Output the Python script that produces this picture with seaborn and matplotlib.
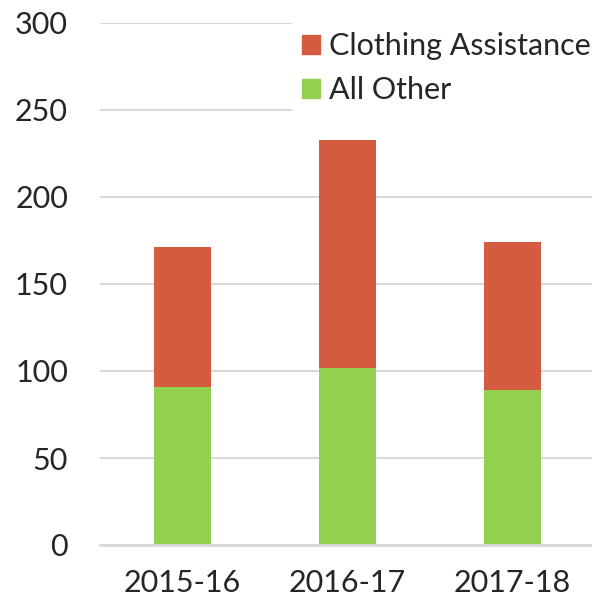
import pandas as pd
import numpy as np
import seaborn as sns
import matplotlib.pyplot as plt
from matplotlib.patches import Patch

years = ['2015-16', '2016-17', '2017-18']
all_other = [91, 102, 89]
clothing = [80, 131, 85]

RED = '#D45B40'
GREEN = '#92D050'

df = pd.DataFrame({'year': years, 'all_other': all_other, 'clothing': clothing})
df['total'] = df['all_other'] + df['clothing']

sns.set_style('white')
plt.rcParams['font.family'] = ['Lato', 'DejaVu Sans']

fig = plt.figure(figsize=(5.92, 6.02), dpi=100)
ax = fig.add_axes([100 / 592, 57 / 602, 495 / 592, 522 / 602])

# stacked: total in red behind, green on top of it from zero
sns.barplot(data=df, x='year', y='total', color=RED, width=0.35, saturation=1,
            linewidth=0, ax=ax)
sns.barplot(data=df, x='year', y='all_other', color=GREEN, width=0.35, saturation=1,
            linewidth=0, ax=ax)

ax.set_ylim(0, 300)
ax.set_yticks(np.arange(0, 301, 50))
ax.set_xlim(-0.5, 2.5)
ax.set_xlabel('')
ax.set_ylabel('')
ax.yaxis.grid(True, color='#D9D9D9', linewidth=1.5)
ax.set_axisbelow(True)
for s in ['top', 'right', 'left']:
    ax.spines[s].set_visible(False)
ax.spines['bottom'].set_color('#D9D9D9')
ax.spines['bottom'].set_linewidth(2)
ax.tick_params(axis='both', length=0, labelsize=22)
ax.tick_params(axis='y', pad=23)
ax.tick_params(axis='x', pad=17)

handles = [Patch(color=RED, label='Clothing Assistance'),
           Patch(color=GREEN, label='All Other')]
leg = ax.legend(handles=handles, loc='upper right', bbox_to_anchor=(1.01, 1.0),
                fontsize=22, frameon=True, fancybox=False, framealpha=1,
                handlelength=0.6, handleheight=0.6, handletextpad=0.3,
                labelspacing=0.52, borderaxespad=0, borderpad=0.3)
leg.get_frame().set_edgecolor('white')

fig.savefig('out.png', dpi=100)
